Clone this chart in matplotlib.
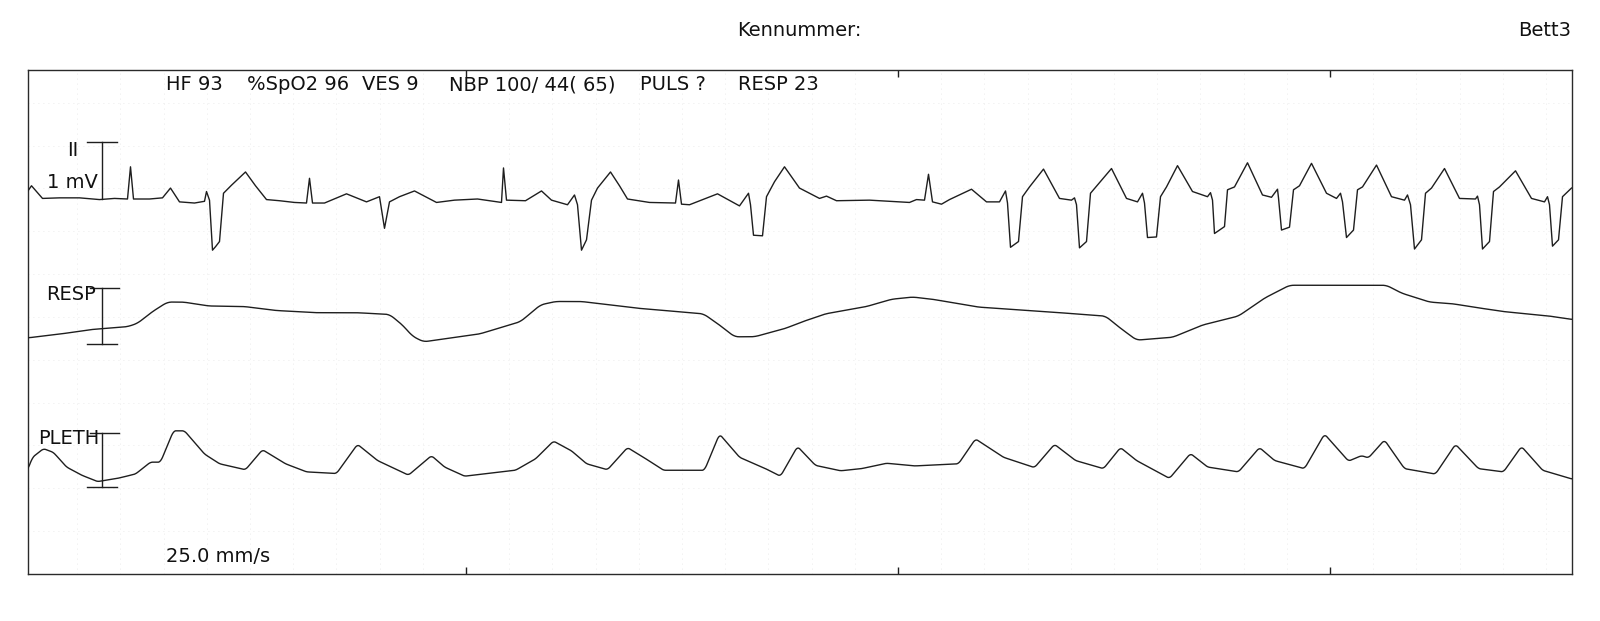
"""
Monitor strip: ECG lead II, RESP and PLETH at 25 mm/s.
"""

import numpy as np

import matplotlib
matplotlib.use("Agg")
import matplotlib.pyplot as plt

# --------------------------------------------------
# Data (sample index n, fs = 216 Hz, strip starts at -0.03 s)
# --------------------------------------------------

FS = 216.0
T_START = -0.03
N_TOTAL = 1544

ECG_N = [0, 4, 15, 32, 52, 72, 87, 100, 103, 106,
         122, 135, 143, 152, 167, 177, 179, 182, 185, 188,
         192, 196, 204, 218, 228, 239, 252, 267, 279, 282,
         285, 297, 319, 339, 352, 357, 362, 372, 387, 409,
         427, 450, 474, 476, 479, 498, 514, 524, 540, 547,
         550, 554, 559, 564, 570, 583, 592, 600, 622, 648,
         651, 654, 662, 690, 712, 721, 723, 726, 735, 739,
         747, 757, 772, 792, 799, 809, 842, 882, 889, 897,
         901, 905, 914, 922, 944, 959, 972, 978, 980, 983,
         991, 995, 1002, 1016, 1032, 1044, 1047, 1049, 1052, 1059,
         1063, 1084, 1099, 1110, 1115, 1117, 1120, 1129, 1133, 1139,
         1150, 1165, 1180, 1183, 1185, 1187, 1197, 1200, 1207, 1220,
         1235, 1244, 1250, 1251, 1254, 1262, 1266, 1272, 1284, 1299,
         1309, 1313, 1315, 1319, 1326, 1330, 1335, 1349, 1364, 1377,
         1380, 1383, 1387, 1394, 1398, 1404, 1417, 1432, 1448, 1450,
         1452, 1455, 1462, 1466, 1472, 1488, 1504, 1517, 1520, 1522,
         1525, 1531, 1535, 1544]

ECG_MV = [0.13, 0.23, 0.01, 0.02, 0.02, -0.01, 0.01, 0.0, 0.56, 0.0,
          0.0, 0.02, 0.19, -0.05, -0.07, -0.04, 0.13, -0.02, -0.89, -0.83,
          -0.74, 0.10, 0.24, 0.47, 0.23, -0.01, -0.03, -0.06, -0.07, 0.36,
          -0.07, -0.07, 0.09, -0.05, 0.04, -0.51, -0.05, 0.04, 0.14, -0.06,
          -0.02, 0.0, -0.06, 0.54, -0.02, -0.03, 0.14, -0.02, -0.10, 0.07,
          -0.10, -0.89, -0.71, -0.02, 0.19, 0.47, 0.23, 0.0, -0.06, -0.07,
          0.33, -0.09, -0.10, 0.09, -0.12, 0.10, -0.10, -0.63, -0.64, 0.04,
          0.30, 0.56, 0.19, 0.01, 0.05, -0.03, -0.02, -0.06, -0.01, -0.02,
          0.43, -0.05, -0.09, -0.01, 0.17, -0.05, -0.05, 0.14, -0.07, -0.84,
          -0.74, 0.04, 0.21, 0.52, 0.01, -0.02, 0.02, -0.10, -0.85, -0.74,
          0.10, 0.53, 0.01, -0.05, 0.10, -0.07, -0.67, -0.66, 0.04, 0.21,
          0.58, 0.13, 0.04, 0.11, -0.02, -0.60, -0.48, 0.16, 0.21, 0.63,
          0.07, 0.03, 0.17, 0.02, -0.54, -0.49, 0.16, 0.23, 0.62, 0.10,
          0.01, 0.10, -0.05, -0.67, -0.54, 0.16, 0.21, 0.59, 0.04, -0.02,
          0.07, -0.10, -0.87, -0.71, 0.10, 0.19, 0.53, 0.01, 0.0, 0.05,
          -0.10, -0.87, -0.74, 0.13, 0.21, 0.49, 0.01, -0.05, 0.04, -0.10,
          -0.82, -0.71, 0.04, 0.19]

RESP_N = [0, 33, 64, 100, 110, 125, 140, 156, 181, 217,
          248, 288, 329, 362, 375, 385, 396, 416, 452, 493,
          513, 528, 554, 610, 676, 692, 707, 727, 758, 772,
          798, 839, 864, 885, 905, 951, 1017, 1078, 1091, 1109,
          1145, 1175, 1211, 1237, 1262, 1359, 1374, 1402, 1425, 1446,
          1476, 1522, 1544]

RESP_V = [0.10, 0.17, 0.25, 0.30, 0.36, 0.57, 0.74, 0.74, 0.67, 0.66,
          0.59, 0.55, 0.55, 0.52, 0.33, 0.13, 0.03, 0.08, 0.17, 0.39,
          0.69, 0.75, 0.75, 0.63, 0.53, 0.33, 0.12, 0.12, 0.27, 0.37,
          0.53, 0.66, 0.79, 0.83, 0.79, 0.65, 0.57, 0.49, 0.30, 0.06,
          0.11, 0.33, 0.49, 0.81, 1.04, 1.04, 0.90, 0.74, 0.71, 0.65,
          0.57, 0.49, 0.43]

PLETH_N = [0, 5, 16, 26, 39, 54, 70, 90, 108, 123,
           133, 146, 157, 177, 192, 218, 235, 258, 279, 309,
           330, 350, 381, 404, 417, 437, 488, 508, 526, 544,
           559, 580, 600, 616, 636, 677, 692, 712, 738, 753,
           770, 788, 813, 834, 859, 887, 931, 948, 976, 1007,
           1027, 1048, 1076, 1093, 1109, 1142, 1163, 1180, 1211, 1232,
           1247, 1277, 1297, 1321, 1334, 1341, 1357, 1377, 1408, 1428,
           1451, 1476, 1494, 1515, 1544]

PLETH_V = [0.31, 0.55, 0.71, 0.64, 0.37, 0.22, 0.10, 0.16, 0.24, 0.46,
           0.46, 1.04, 1.04, 0.61, 0.43, 0.32, 0.69, 0.43, 0.28, 0.25,
           0.79, 0.49, 0.22, 0.58, 0.37, 0.20, 0.31, 0.52, 0.85, 0.67,
           0.43, 0.32, 0.73, 0.55, 0.31, 0.31, 0.98, 0.55, 0.34, 0.20,
           0.75, 0.40, 0.30, 0.34, 0.44, 0.39, 0.43, 0.89, 0.55, 0.36,
           0.79, 0.49, 0.34, 0.73, 0.49, 0.16, 0.62, 0.37, 0.28, 0.73,
           0.49, 0.34, 0.98, 0.48, 0.58, 0.54, 0.87, 0.34, 0.24, 0.79,
           0.34, 0.28, 0.75, 0.31, 0.15]

HEADER_ITEMS = ["HF 93", "%SpO2 96", "VES 9", "NBP 100/ 44( 65)",
                "PULS ?", "RESP 23"]
TICK_SECONDS = [2, 4, 6]

# --------------------------------------------------
# Layout (pixels of the 1600 x 621 page)
# --------------------------------------------------

W, H = 1600, 621
FRAME = (27.5, 70, 1571.5, 574)      # left, top, right, bottom
HEADER_X = [166, 247, 362, 449, 640, 738]
CAL_N = 74.5                          # calibration bars position (samples)
INK = "#1e1e1e"
FONT = "DejaVu Sans"
FS_TXT = 14


def fx(px):
    return px / W


def fy(py):
    return 1 - py / H


def to_time(n):
    return np.asarray(n, dtype=float) / FS + T_START


def channel_axes(fig, rect, frame_ax, base_px, px_per_unit):
    ax = fig.add_axes(rect, sharex=frame_ax)
    top, bottom = FRAME[1], FRAME[3]
    ax.set_ylim((base_px - bottom) / px_per_unit, (base_px - top) / px_per_unit)
    ax.axis("off")
    ax.patch.set_alpha(0)
    return ax


def smooth(n, v, win=7):
    grid = np.arange(0, N_TOTAL + 1)
    y = np.interp(grid, n, v)
    k = np.ones(win) / win
    ys = np.convolve(np.pad(y, win // 2, mode="edge"), k, mode="valid")
    return grid, ys


def cal_bar(ax, height, top_w, bottom_w=None):
    x0 = to_time(CAL_N)
    ax.plot([x0, x0], [0, height], color=INK, lw=1.0)
    ax.plot(to_time([CAL_N - top_w[0], CAL_N + top_w[1]]), [height, height],
            color=INK, lw=1.0)
    if bottom_w is not None:
        ax.plot(to_time([CAL_N - bottom_w[0], CAL_N + bottom_w[1]]), [0, 0],
                color=INK, lw=1.0)


def main():
    fig = plt.figure(figsize=(W / 100, H / 100), dpi=100)
    fig.patch.set_facecolor("white")

    rect = [fx(FRAME[0]), fy(FRAME[3]),
            fx(FRAME[2]) - fx(FRAME[0]), fy(FRAME[1]) - fy(FRAME[3])]

    # frame with small inward ticks every 2 s
    frame = fig.add_axes(rect)
    frame.set_xlim(to_time(0), to_time(N_TOTAL))
    frame.set_ylim(0, 1)
    frame.set_xticks(TICK_SECONDS)
    frame.set_xticklabels([])
    frame.set_yticks([])
    frame.tick_params(axis="x", direction="in", length=5, width=1.0,
                      color=INK, top=True, bottom=True)
    for s in frame.spines.values():
        s.set_color("#2a2a2a")
        s.set_linewidth(1.0)

    # faint dotted paper grid
    frame.set_xticks(np.arange(0.2, 7.2, 0.2), minor=True)
    frame.set_yticks(np.arange(0.0, 1.0, 0.085), minor=True)
    frame.tick_params(which="minor", length=0)
    frame.grid(which="minor", color="#e4e4e4", lw=0.6, ls=(0, (1, 5)))

    # ECG lead II
    ecg = channel_axes(fig, rect, frame, base_px=199, px_per_unit=57.5)
    ecg.plot(to_time(ECG_N), ECG_MV, color=INK, lw=1.0)
    cal_bar(ecg, 1.0, (15, 15))

    # respiration
    resp = channel_axes(fig, rect, frame, base_px=343.5, px_per_unit=56)
    g, r = smooth(RESP_N, RESP_V, 9)
    resp.plot(to_time(g), r, color=INK, lw=1.0)
    cal_bar(resp, 1.0, (12, 17), (15, 15))

    # plethysmogram
    pleth = channel_axes(fig, rect, frame, base_px=487, px_per_unit=54)
    g, p = smooth(PLETH_N, PLETH_V, 5)
    pleth.plot(to_time(g), p, color=INK, lw=1.0)
    cal_bar(pleth, 1.0, (12, 17), (15, 15))

    # --------------------------------------------------
    # Texts
    # --------------------------------------------------

    kw = dict(family=FONT, color="#111111", fontsize=FS_TXT)
    fig.text(fx(799), fy(31), "Kennummer:", ha="center", va="center", **kw)
    fig.text(fx(1571.5), fy(31), "Bett3", ha="right", va="center", **kw)

    for label, x in zip(HEADER_ITEMS, HEADER_X):
        fig.text(fx(x), fy(85), label, ha="left", va="center", **kw)

    fig.text(fx(73), fy(150), "II", ha="center", va="center", **kw)
    fig.text(fx(47), fy(183), "1 mV", ha="left", va="center", **kw)
    fig.text(fx(46), fy(294), "RESP", ha="left", va="center", **kw)
    fig.text(fx(38), fy(439), "PLETH", ha="left", va="center", **kw)
    fig.text(fx(166), fy(557), "25.0 mm/s", ha="left", va="center", **kw)

    fig.savefig("out.png", dpi=100, facecolor="white")


if __name__ == "__main__":
    main()
